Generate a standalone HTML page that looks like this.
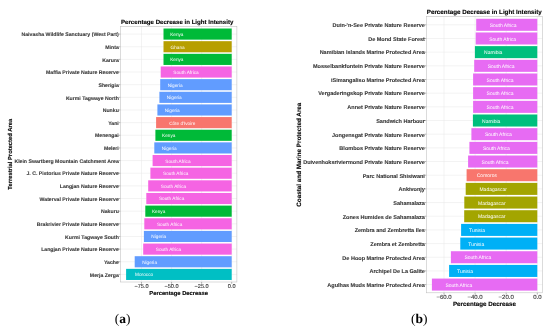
<!DOCTYPE html>
<html><head><meta charset="utf-8"><style>html,body{margin:0;padding:0;background:#fff;width:550px;height:330px;overflow:hidden}svg{display:block;will-change:transform;transform:translateZ(0)}</style></head>
<body>
<svg width="550" height="330" viewBox="0 0 550 330" font-family="Liberation Sans, sans-serif" text-rendering="geometricPrecision">
<rect width="550" height="330" fill="#fff"/>
<line x1="141.50" y1="26.5" x2="141.50" y2="282.0" stroke="#E6E6E6" stroke-width="0.5"/>
<line x1="171.57" y1="26.5" x2="171.57" y2="282.0" stroke="#E6E6E6" stroke-width="0.5"/>
<line x1="201.63" y1="26.5" x2="201.63" y2="282.0" stroke="#E6E6E6" stroke-width="0.5"/>
<line x1="231.70" y1="26.5" x2="231.70" y2="282.0" stroke="#E6E6E6" stroke-width="0.5"/>
<line x1="120.4" y1="34.09" x2="236.9" y2="34.09" stroke="#E6E6E6" stroke-width="0.5"/>
<line x1="120.4" y1="46.74" x2="236.9" y2="46.74" stroke="#E6E6E6" stroke-width="0.5"/>
<line x1="120.4" y1="59.39" x2="236.9" y2="59.39" stroke="#E6E6E6" stroke-width="0.5"/>
<line x1="120.4" y1="72.03" x2="236.9" y2="72.03" stroke="#E6E6E6" stroke-width="0.5"/>
<line x1="120.4" y1="84.68" x2="236.9" y2="84.68" stroke="#E6E6E6" stroke-width="0.5"/>
<line x1="120.4" y1="97.33" x2="236.9" y2="97.33" stroke="#E6E6E6" stroke-width="0.5"/>
<line x1="120.4" y1="109.98" x2="236.9" y2="109.98" stroke="#E6E6E6" stroke-width="0.5"/>
<line x1="120.4" y1="122.63" x2="236.9" y2="122.63" stroke="#E6E6E6" stroke-width="0.5"/>
<line x1="120.4" y1="135.28" x2="236.9" y2="135.28" stroke="#E6E6E6" stroke-width="0.5"/>
<line x1="120.4" y1="147.93" x2="236.9" y2="147.93" stroke="#E6E6E6" stroke-width="0.5"/>
<line x1="120.4" y1="160.57" x2="236.9" y2="160.57" stroke="#E6E6E6" stroke-width="0.5"/>
<line x1="120.4" y1="173.22" x2="236.9" y2="173.22" stroke="#E6E6E6" stroke-width="0.5"/>
<line x1="120.4" y1="185.87" x2="236.9" y2="185.87" stroke="#E6E6E6" stroke-width="0.5"/>
<line x1="120.4" y1="198.52" x2="236.9" y2="198.52" stroke="#E6E6E6" stroke-width="0.5"/>
<line x1="120.4" y1="211.17" x2="236.9" y2="211.17" stroke="#E6E6E6" stroke-width="0.5"/>
<line x1="120.4" y1="223.82" x2="236.9" y2="223.82" stroke="#E6E6E6" stroke-width="0.5"/>
<line x1="120.4" y1="236.47" x2="236.9" y2="236.47" stroke="#E6E6E6" stroke-width="0.5"/>
<line x1="120.4" y1="249.11" x2="236.9" y2="249.11" stroke="#E6E6E6" stroke-width="0.5"/>
<line x1="120.4" y1="261.76" x2="236.9" y2="261.76" stroke="#E6E6E6" stroke-width="0.5"/>
<line x1="120.4" y1="274.41" x2="236.9" y2="274.41" stroke="#E6E6E6" stroke-width="0.5"/>
<rect x="163.50" y="28.52" width="68.20" height="11.13" fill="#00BA38"/>
<text x="170.16" y="36.06" font-size="4.7" fill="#fff">Kenya</text>
<text x="118.80" y="36.26" font-size="5.16" font-weight="bold" fill="#383838" stroke="#383838" stroke-width="0.1" text-anchor="end">Naivasha Wildlife Sanctuary (West Part)</text>
<line x1="118.60" y1="34.09" x2="120.4" y2="34.09" stroke="#777" stroke-width="0.55"/>
<rect x="163.50" y="41.17" width="68.20" height="11.13" fill="#B79F00"/>
<text x="170.56" y="48.71" font-size="4.7" fill="#fff">Ghana</text>
<text x="118.80" y="48.90" font-size="5.16" font-weight="bold" fill="#383838" stroke="#383838" stroke-width="0.1" text-anchor="end">Minta</text>
<line x1="118.60" y1="46.74" x2="120.4" y2="46.74" stroke="#777" stroke-width="0.55"/>
<rect x="163.50" y="53.82" width="68.20" height="11.13" fill="#00BA38"/>
<text x="170.16" y="61.36" font-size="4.7" fill="#fff">Kenya</text>
<text x="118.80" y="61.55" font-size="5.16" font-weight="bold" fill="#383838" stroke="#383838" stroke-width="0.1" text-anchor="end">Karura</text>
<line x1="118.60" y1="59.39" x2="120.4" y2="59.39" stroke="#777" stroke-width="0.55"/>
<rect x="160.70" y="66.47" width="71.00" height="11.13" fill="#F564E3"/>
<text x="173.37" y="74.01" font-size="4.7" fill="#fff">South Africa</text>
<text x="118.80" y="74.20" font-size="5.16" font-weight="bold" fill="#383838" stroke="#383838" stroke-width="0.1" text-anchor="end">Maffia Private Nature Reserve</text>
<line x1="118.60" y1="72.03" x2="120.4" y2="72.03" stroke="#777" stroke-width="0.55"/>
<rect x="160.20" y="79.12" width="71.50" height="11.13" fill="#619CFF"/>
<text x="167.65" y="86.66" font-size="4.7" fill="#fff">Nigeria</text>
<text x="118.80" y="86.85" font-size="5.16" font-weight="bold" fill="#383838" stroke="#383838" stroke-width="0.1" text-anchor="end">Sherigia</text>
<line x1="118.60" y1="84.68" x2="120.4" y2="84.68" stroke="#777" stroke-width="0.55"/>
<rect x="159.40" y="91.77" width="72.30" height="11.13" fill="#619CFF"/>
<text x="166.85" y="99.31" font-size="4.7" fill="#fff">Nigeria</text>
<text x="118.80" y="99.50" font-size="5.16" font-weight="bold" fill="#383838" stroke="#383838" stroke-width="0.1" text-anchor="end">Kurmi Tagwaye North</text>
<line x1="118.60" y1="97.33" x2="120.4" y2="97.33" stroke="#777" stroke-width="0.55"/>
<rect x="157.40" y="104.41" width="74.30" height="11.13" fill="#619CFF"/>
<text x="164.85" y="111.95" font-size="4.7" fill="#fff">Nigeria</text>
<text x="118.80" y="112.15" font-size="5.16" font-weight="bold" fill="#383838" stroke="#383838" stroke-width="0.1" text-anchor="end">Nunku</text>
<line x1="118.60" y1="109.98" x2="120.4" y2="109.98" stroke="#777" stroke-width="0.55"/>
<rect x="156.10" y="117.06" width="75.60" height="11.13" fill="#F8766D"/>
<text x="169.22" y="124.60" font-size="4.7" fill="#fff">Côte d&#39;Ivoire</text>
<text x="118.80" y="124.80" font-size="5.16" font-weight="bold" fill="#383838" stroke="#383838" stroke-width="0.1" text-anchor="end">Yani</text>
<line x1="118.60" y1="122.63" x2="120.4" y2="122.63" stroke="#777" stroke-width="0.55"/>
<rect x="155.40" y="129.71" width="76.30" height="11.13" fill="#00BA38"/>
<text x="162.06" y="137.25" font-size="4.7" fill="#fff">Kenya</text>
<text x="118.80" y="137.44" font-size="5.16" font-weight="bold" fill="#383838" stroke="#383838" stroke-width="0.1" text-anchor="end">Menengai</text>
<line x1="118.60" y1="135.28" x2="120.4" y2="135.28" stroke="#777" stroke-width="0.55"/>
<rect x="154.30" y="142.36" width="77.40" height="11.13" fill="#619CFF"/>
<text x="161.75" y="149.90" font-size="4.7" fill="#fff">Nigeria</text>
<text x="118.80" y="150.09" font-size="5.16" font-weight="bold" fill="#383838" stroke="#383838" stroke-width="0.1" text-anchor="end">Meleri</text>
<line x1="118.60" y1="147.93" x2="120.4" y2="147.93" stroke="#777" stroke-width="0.55"/>
<rect x="152.60" y="155.01" width="79.10" height="11.13" fill="#F564E3"/>
<text x="165.27" y="162.55" font-size="4.7" fill="#fff">South Africa</text>
<text x="118.80" y="162.74" font-size="5.16" font-weight="bold" fill="#383838" stroke="#383838" stroke-width="0.1" text-anchor="end">Klein Swartberg Mountain Catchment Area</text>
<line x1="118.60" y1="160.57" x2="120.4" y2="160.57" stroke="#777" stroke-width="0.55"/>
<rect x="150.40" y="167.66" width="81.30" height="11.13" fill="#F564E3"/>
<text x="163.07" y="175.20" font-size="4.7" fill="#fff">South Africa</text>
<text x="118.80" y="175.39" font-size="5.16" font-weight="bold" fill="#383838" stroke="#383838" stroke-width="0.1" text-anchor="end">J. C. Pistorius Private Nature Reserve</text>
<line x1="118.60" y1="173.22" x2="120.4" y2="173.22" stroke="#777" stroke-width="0.55"/>
<rect x="148.20" y="180.31" width="83.50" height="11.13" fill="#F564E3"/>
<text x="160.87" y="187.85" font-size="4.7" fill="#fff">South Africa</text>
<text x="118.80" y="188.04" font-size="5.16" font-weight="bold" fill="#383838" stroke="#383838" stroke-width="0.1" text-anchor="end">Langjan Nature Reserve</text>
<line x1="118.60" y1="185.87" x2="120.4" y2="185.87" stroke="#777" stroke-width="0.55"/>
<rect x="146.30" y="192.95" width="85.40" height="11.13" fill="#F564E3"/>
<text x="158.97" y="200.49" font-size="4.7" fill="#fff">South Africa</text>
<text x="118.80" y="200.69" font-size="5.16" font-weight="bold" fill="#383838" stroke="#383838" stroke-width="0.1" text-anchor="end">Waterval Private Nature Reserve</text>
<line x1="118.60" y1="198.52" x2="120.4" y2="198.52" stroke="#777" stroke-width="0.55"/>
<rect x="145.30" y="205.60" width="86.40" height="11.13" fill="#00BA38"/>
<text x="151.96" y="213.14" font-size="4.7" fill="#fff">Kenya</text>
<text x="118.80" y="213.34" font-size="5.16" font-weight="bold" fill="#383838" stroke="#383838" stroke-width="0.1" text-anchor="end">Nakuru</text>
<line x1="118.60" y1="211.17" x2="120.4" y2="211.17" stroke="#777" stroke-width="0.55"/>
<rect x="144.30" y="218.25" width="87.40" height="11.13" fill="#F564E3"/>
<text x="156.97" y="225.79" font-size="4.7" fill="#fff">South Africa</text>
<text x="118.80" y="225.98" font-size="5.16" font-weight="bold" fill="#383838" stroke="#383838" stroke-width="0.1" text-anchor="end">Brakrivier Private Nature Reserve</text>
<line x1="118.60" y1="223.82" x2="120.4" y2="223.82" stroke="#777" stroke-width="0.55"/>
<rect x="143.90" y="230.90" width="87.80" height="11.13" fill="#619CFF"/>
<text x="151.35" y="238.44" font-size="4.7" fill="#fff">Nigeria</text>
<text x="118.80" y="238.63" font-size="5.16" font-weight="bold" fill="#383838" stroke="#383838" stroke-width="0.1" text-anchor="end">Kurmi Tagwaye South</text>
<line x1="118.60" y1="236.47" x2="120.4" y2="236.47" stroke="#777" stroke-width="0.55"/>
<rect x="143.20" y="243.55" width="88.50" height="11.13" fill="#F564E3"/>
<text x="155.87" y="251.09" font-size="4.7" fill="#fff">South Africa</text>
<text x="118.80" y="251.28" font-size="5.16" font-weight="bold" fill="#383838" stroke="#383838" stroke-width="0.1" text-anchor="end">Langjan Private Nature Reserve</text>
<line x1="118.60" y1="249.11" x2="120.4" y2="249.11" stroke="#777" stroke-width="0.55"/>
<rect x="134.70" y="256.20" width="97.00" height="11.13" fill="#619CFF"/>
<text x="142.15" y="263.74" font-size="4.7" fill="#fff">Nigeria</text>
<text x="118.80" y="263.93" font-size="5.16" font-weight="bold" fill="#383838" stroke="#383838" stroke-width="0.1" text-anchor="end">Yache</text>
<line x1="118.60" y1="261.76" x2="120.4" y2="261.76" stroke="#777" stroke-width="0.55"/>
<rect x="126.10" y="268.85" width="105.60" height="11.13" fill="#00BFC4"/>
<text x="135.11" y="276.38" font-size="4.7" fill="#fff">Morocco</text>
<text x="118.80" y="276.58" font-size="5.16" font-weight="bold" fill="#383838" stroke="#383838" stroke-width="0.1" text-anchor="end">Merja Zerga</text>
<line x1="118.60" y1="274.41" x2="120.4" y2="274.41" stroke="#777" stroke-width="0.55"/>
<rect x="120.4" y="26.5" width="116.5" height="255.5" fill="none" stroke="#BDBDBD" stroke-width="0.55"/>
<line x1="141.50" y1="282.0" x2="141.50" y2="283.8" stroke="#777" stroke-width="0.55"/>
<text x="141.50" y="288.2" font-size="5.6" fill="#3a3a3a" stroke="#3a3a3a" stroke-width="0.12" text-anchor="middle">−75.0</text>
<line x1="171.57" y1="282.0" x2="171.57" y2="283.8" stroke="#777" stroke-width="0.55"/>
<text x="171.57" y="288.2" font-size="5.6" fill="#3a3a3a" stroke="#3a3a3a" stroke-width="0.12" text-anchor="middle">−50.0</text>
<line x1="201.63" y1="282.0" x2="201.63" y2="283.8" stroke="#777" stroke-width="0.55"/>
<text x="201.63" y="288.2" font-size="5.6" fill="#3a3a3a" stroke="#3a3a3a" stroke-width="0.12" text-anchor="middle">−25.0</text>
<line x1="231.70" y1="282.0" x2="231.70" y2="283.8" stroke="#777" stroke-width="0.55"/>
<text x="231.70" y="288.2" font-size="5.6" fill="#3a3a3a" stroke="#3a3a3a" stroke-width="0.12" text-anchor="middle">0.0</text>
<text x="121" y="23.7" font-size="6.12" font-weight="bold" fill="#000" stroke="#000" stroke-width="0.12">Percentage Decrease in Light Intensity</text>
<text x="178.65" y="294.6" font-size="5.8" font-weight="bold" fill="#000" stroke="#000" stroke-width="0.12" text-anchor="middle">Percentage Decrease</text>
<text transform="translate(11.9,154.25) rotate(-90)" font-size="5.83" font-weight="bold" fill="#000" stroke="#000" stroke-width="0.12" text-anchor="middle">Terrestrial Protected Area</text>
<line x1="444.00" y1="16.6" x2="444.00" y2="292.8" stroke="#E6E6E6" stroke-width="0.5"/>
<line x1="475.10" y1="16.6" x2="475.10" y2="292.8" stroke="#E6E6E6" stroke-width="0.5"/>
<line x1="506.20" y1="16.6" x2="506.20" y2="292.8" stroke="#E6E6E6" stroke-width="0.5"/>
<line x1="537.30" y1="16.6" x2="537.30" y2="292.8" stroke="#E6E6E6" stroke-width="0.5"/>
<line x1="426.4" y1="24.80" x2="542.4" y2="24.80" stroke="#E6E6E6" stroke-width="0.5"/>
<line x1="426.4" y1="38.48" x2="542.4" y2="38.48" stroke="#E6E6E6" stroke-width="0.5"/>
<line x1="426.4" y1="52.15" x2="542.4" y2="52.15" stroke="#E6E6E6" stroke-width="0.5"/>
<line x1="426.4" y1="65.82" x2="542.4" y2="65.82" stroke="#E6E6E6" stroke-width="0.5"/>
<line x1="426.4" y1="79.50" x2="542.4" y2="79.50" stroke="#E6E6E6" stroke-width="0.5"/>
<line x1="426.4" y1="93.17" x2="542.4" y2="93.17" stroke="#E6E6E6" stroke-width="0.5"/>
<line x1="426.4" y1="106.84" x2="542.4" y2="106.84" stroke="#E6E6E6" stroke-width="0.5"/>
<line x1="426.4" y1="120.52" x2="542.4" y2="120.52" stroke="#E6E6E6" stroke-width="0.5"/>
<line x1="426.4" y1="134.19" x2="542.4" y2="134.19" stroke="#E6E6E6" stroke-width="0.5"/>
<line x1="426.4" y1="147.86" x2="542.4" y2="147.86" stroke="#E6E6E6" stroke-width="0.5"/>
<line x1="426.4" y1="161.54" x2="542.4" y2="161.54" stroke="#E6E6E6" stroke-width="0.5"/>
<line x1="426.4" y1="175.21" x2="542.4" y2="175.21" stroke="#E6E6E6" stroke-width="0.5"/>
<line x1="426.4" y1="188.88" x2="542.4" y2="188.88" stroke="#E6E6E6" stroke-width="0.5"/>
<line x1="426.4" y1="202.56" x2="542.4" y2="202.56" stroke="#E6E6E6" stroke-width="0.5"/>
<line x1="426.4" y1="216.23" x2="542.4" y2="216.23" stroke="#E6E6E6" stroke-width="0.5"/>
<line x1="426.4" y1="229.90" x2="542.4" y2="229.90" stroke="#E6E6E6" stroke-width="0.5"/>
<line x1="426.4" y1="243.58" x2="542.4" y2="243.58" stroke="#E6E6E6" stroke-width="0.5"/>
<line x1="426.4" y1="257.25" x2="542.4" y2="257.25" stroke="#E6E6E6" stroke-width="0.5"/>
<line x1="426.4" y1="270.92" x2="542.4" y2="270.92" stroke="#E6E6E6" stroke-width="0.5"/>
<line x1="426.4" y1="284.60" x2="542.4" y2="284.60" stroke="#E6E6E6" stroke-width="0.5"/>
<rect x="476.20" y="18.79" width="61.10" height="12.03" fill="#E76BF3"/>
<text x="489.68" y="26.90" font-size="5.0" fill="#fff">South Africa</text>
<text x="424.90" y="27.13" font-size="5.53" font-weight="bold" fill="#383838" stroke="#383838" stroke-width="0.1" text-anchor="end">Duin-&#39;n-See Private Nature Reserve</text>
<line x1="424.60" y1="24.80" x2="426.4" y2="24.80" stroke="#777" stroke-width="0.55"/>
<rect x="475.70" y="32.46" width="61.60" height="12.03" fill="#E76BF3"/>
<text x="489.18" y="40.58" font-size="5.0" fill="#fff">South Africa</text>
<text x="424.90" y="40.80" font-size="5.53" font-weight="bold" fill="#383838" stroke="#383838" stroke-width="0.1" text-anchor="end">De Mond State Forest</text>
<line x1="424.60" y1="38.48" x2="426.4" y2="38.48" stroke="#777" stroke-width="0.55"/>
<rect x="474.90" y="46.13" width="62.40" height="12.03" fill="#00BF7D"/>
<text x="484.07" y="54.25" font-size="5.0" fill="#fff">Namibia</text>
<text x="424.90" y="54.47" font-size="5.53" font-weight="bold" fill="#383838" stroke="#383838" stroke-width="0.1" text-anchor="end">Namibian Islands Marine Protected Area</text>
<line x1="424.60" y1="52.15" x2="426.4" y2="52.15" stroke="#777" stroke-width="0.55"/>
<rect x="474.20" y="59.81" width="63.10" height="12.03" fill="#E76BF3"/>
<text x="487.68" y="67.92" font-size="5.0" fill="#fff">South Africa</text>
<text x="424.90" y="68.15" font-size="5.53" font-weight="bold" fill="#383838" stroke="#383838" stroke-width="0.1" text-anchor="end">Mosselbankfontein Private Nature Reserve</text>
<line x1="424.60" y1="65.82" x2="426.4" y2="65.82" stroke="#777" stroke-width="0.55"/>
<rect x="473.10" y="73.48" width="64.20" height="12.03" fill="#E76BF3"/>
<text x="486.58" y="81.60" font-size="5.0" fill="#fff">South Africa</text>
<text x="424.90" y="81.82" font-size="5.53" font-weight="bold" fill="#383838" stroke="#383838" stroke-width="0.1" text-anchor="end">iSimangaliso Marine Protected Area</text>
<line x1="424.60" y1="79.50" x2="426.4" y2="79.50" stroke="#777" stroke-width="0.55"/>
<rect x="473.10" y="87.15" width="64.20" height="12.03" fill="#E76BF3"/>
<text x="486.58" y="95.27" font-size="5.0" fill="#fff">South Africa</text>
<text x="424.90" y="95.49" font-size="5.53" font-weight="bold" fill="#383838" stroke="#383838" stroke-width="0.1" text-anchor="end">Vergaderingskop Private Nature Reserve</text>
<line x1="424.60" y1="93.17" x2="426.4" y2="93.17" stroke="#777" stroke-width="0.55"/>
<rect x="473.10" y="100.83" width="64.20" height="12.03" fill="#E76BF3"/>
<text x="486.58" y="108.94" font-size="5.0" fill="#fff">South Africa</text>
<text x="424.90" y="109.17" font-size="5.53" font-weight="bold" fill="#383838" stroke="#383838" stroke-width="0.1" text-anchor="end">Annet Private Nature Reserve</text>
<line x1="424.60" y1="106.84" x2="426.4" y2="106.84" stroke="#777" stroke-width="0.55"/>
<rect x="472.90" y="114.50" width="64.40" height="12.03" fill="#00BF7D"/>
<text x="482.07" y="122.62" font-size="5.0" fill="#fff">Namibia</text>
<text x="424.90" y="122.84" font-size="5.53" font-weight="bold" fill="#383838" stroke="#383838" stroke-width="0.1" text-anchor="end">Sandwich Harbour</text>
<line x1="424.60" y1="120.52" x2="426.4" y2="120.52" stroke="#777" stroke-width="0.55"/>
<rect x="471.40" y="128.17" width="65.90" height="12.03" fill="#E76BF3"/>
<text x="484.88" y="136.29" font-size="5.0" fill="#fff">South Africa</text>
<text x="424.90" y="136.51" font-size="5.53" font-weight="bold" fill="#383838" stroke="#383838" stroke-width="0.1" text-anchor="end">Jongensgat Private Nature Reserve</text>
<line x1="424.60" y1="134.19" x2="426.4" y2="134.19" stroke="#777" stroke-width="0.55"/>
<rect x="469.40" y="141.85" width="67.90" height="12.03" fill="#E76BF3"/>
<text x="482.88" y="149.96" font-size="5.0" fill="#fff">South Africa</text>
<text x="424.90" y="150.19" font-size="5.53" font-weight="bold" fill="#383838" stroke="#383838" stroke-width="0.1" text-anchor="end">Blombos Private Nature Reserve</text>
<line x1="424.60" y1="147.86" x2="426.4" y2="147.86" stroke="#777" stroke-width="0.55"/>
<rect x="468.10" y="155.52" width="69.20" height="12.03" fill="#E76BF3"/>
<text x="481.58" y="163.64" font-size="5.0" fill="#fff">South Africa</text>
<text x="424.90" y="163.86" font-size="5.53" font-weight="bold" fill="#383838" stroke="#383838" stroke-width="0.1" text-anchor="end">Duivenhoksriviermond Private Nature Reserve</text>
<line x1="424.60" y1="161.54" x2="426.4" y2="161.54" stroke="#777" stroke-width="0.55"/>
<rect x="466.60" y="169.19" width="70.70" height="12.03" fill="#F8766D"/>
<text x="476.75" y="177.31" font-size="5.0" fill="#fff">Comoros</text>
<text x="424.90" y="177.53" font-size="5.53" font-weight="bold" fill="#383838" stroke="#383838" stroke-width="0.1" text-anchor="end">Parc National Shisiwani</text>
<line x1="424.60" y1="175.21" x2="426.4" y2="175.21" stroke="#777" stroke-width="0.55"/>
<rect x="465.70" y="182.87" width="71.60" height="12.03" fill="#A3A500"/>
<text x="479.46" y="190.98" font-size="5.0" fill="#fff">Madagascar</text>
<text x="424.90" y="191.21" font-size="5.53" font-weight="bold" fill="#383838" stroke="#383838" stroke-width="0.1" text-anchor="end">Ankivonjy</text>
<line x1="424.60" y1="188.88" x2="426.4" y2="188.88" stroke="#777" stroke-width="0.55"/>
<rect x="464.30" y="196.54" width="73.00" height="12.03" fill="#A3A500"/>
<text x="478.06" y="204.66" font-size="5.0" fill="#fff">Madagascar</text>
<text x="424.90" y="204.88" font-size="5.53" font-weight="bold" fill="#383838" stroke="#383838" stroke-width="0.1" text-anchor="end">Sahamalaza</text>
<line x1="424.60" y1="202.56" x2="426.4" y2="202.56" stroke="#777" stroke-width="0.55"/>
<rect x="464.20" y="210.21" width="73.10" height="12.03" fill="#A3A500"/>
<text x="477.96" y="218.33" font-size="5.0" fill="#fff">Madagascar</text>
<text x="424.90" y="218.55" font-size="5.53" font-weight="bold" fill="#383838" stroke="#383838" stroke-width="0.1" text-anchor="end">Zones Humides de Sahamalaza</text>
<line x1="424.60" y1="216.23" x2="426.4" y2="216.23" stroke="#777" stroke-width="0.55"/>
<rect x="461.10" y="223.89" width="76.20" height="12.03" fill="#00B0F6"/>
<text x="469.07" y="232.00" font-size="5.0" fill="#fff">Tunisia</text>
<text x="424.90" y="232.23" font-size="5.53" font-weight="bold" fill="#383838" stroke="#383838" stroke-width="0.1" text-anchor="end">Zembra and Zembretta Iles</text>
<line x1="424.60" y1="229.90" x2="426.4" y2="229.90" stroke="#777" stroke-width="0.55"/>
<rect x="460.30" y="237.56" width="77.00" height="12.03" fill="#00B0F6"/>
<text x="468.27" y="245.68" font-size="5.0" fill="#fff">Tunisia</text>
<text x="424.90" y="245.90" font-size="5.53" font-weight="bold" fill="#383838" stroke="#383838" stroke-width="0.1" text-anchor="end">Zembra et Zembretta</text>
<line x1="424.60" y1="243.58" x2="426.4" y2="243.58" stroke="#777" stroke-width="0.55"/>
<rect x="450.90" y="251.23" width="86.40" height="12.03" fill="#E76BF3"/>
<text x="464.38" y="259.35" font-size="5.0" fill="#fff">South Africa</text>
<text x="424.90" y="259.57" font-size="5.53" font-weight="bold" fill="#383838" stroke="#383838" stroke-width="0.1" text-anchor="end">De Hoop Marine Protected Area</text>
<line x1="424.60" y1="257.25" x2="426.4" y2="257.25" stroke="#777" stroke-width="0.55"/>
<rect x="449.10" y="264.91" width="88.20" height="12.03" fill="#00B0F6"/>
<text x="457.07" y="273.02" font-size="5.0" fill="#fff">Tunisia</text>
<text x="424.90" y="273.25" font-size="5.53" font-weight="bold" fill="#383838" stroke="#383838" stroke-width="0.1" text-anchor="end">Archipel De La Galite</text>
<line x1="424.60" y1="270.92" x2="426.4" y2="270.92" stroke="#777" stroke-width="0.55"/>
<rect x="431.90" y="278.58" width="105.40" height="12.03" fill="#E76BF3"/>
<text x="445.38" y="286.70" font-size="5.0" fill="#fff">South Africa</text>
<text x="424.90" y="286.92" font-size="5.53" font-weight="bold" fill="#383838" stroke="#383838" stroke-width="0.1" text-anchor="end">Agulhas Muds Marine Protected Area</text>
<line x1="424.60" y1="284.60" x2="426.4" y2="284.60" stroke="#777" stroke-width="0.55"/>
<rect x="426.4" y="16.6" width="116.0" height="276.2" fill="none" stroke="#BDBDBD" stroke-width="0.55"/>
<line x1="444.00" y1="292.8" x2="444.00" y2="294.6" stroke="#777" stroke-width="0.55"/>
<text x="444.00" y="299.0" font-size="6.0" fill="#3a3a3a" stroke="#3a3a3a" stroke-width="0.12" text-anchor="middle">−60.0</text>
<line x1="475.10" y1="292.8" x2="475.10" y2="294.6" stroke="#777" stroke-width="0.55"/>
<text x="475.10" y="299.0" font-size="6.0" fill="#3a3a3a" stroke="#3a3a3a" stroke-width="0.12" text-anchor="middle">−40.0</text>
<line x1="506.20" y1="292.8" x2="506.20" y2="294.6" stroke="#777" stroke-width="0.55"/>
<text x="506.20" y="299.0" font-size="6.0" fill="#3a3a3a" stroke="#3a3a3a" stroke-width="0.12" text-anchor="middle">−20.0</text>
<line x1="537.30" y1="292.8" x2="537.30" y2="294.6" stroke="#777" stroke-width="0.55"/>
<text x="537.30" y="299.0" font-size="6.0" fill="#3a3a3a" stroke="#3a3a3a" stroke-width="0.12" text-anchor="middle">0.0</text>
<text x="426.8" y="13.6" font-size="6.25" font-weight="bold" fill="#000" stroke="#000" stroke-width="0.12">Percentage Decrease in Light Intensity</text>
<text x="484.40" y="305.6" font-size="6.23" font-weight="bold" fill="#000" stroke="#000" stroke-width="0.12" text-anchor="middle">Percentage Decrease</text>
<text transform="translate(300.6,154.70) rotate(-90)" font-size="6.3" font-weight="bold" fill="#000" stroke="#000" stroke-width="0.12" text-anchor="middle">Coastal and Marine Protected Area</text>
<text x="114.7" y="322.8" font-family="Liberation Serif, serif" font-size="13.5" font-weight="normal" fill="#000">(<tspan font-weight="bold">a</tspan>)</text>
<text x="411.0" y="322.8" font-family="Liberation Serif, serif" font-size="13.5" font-weight="normal" fill="#000">(<tspan font-weight="bold">b</tspan>)</text>
</svg>
</body></html>
